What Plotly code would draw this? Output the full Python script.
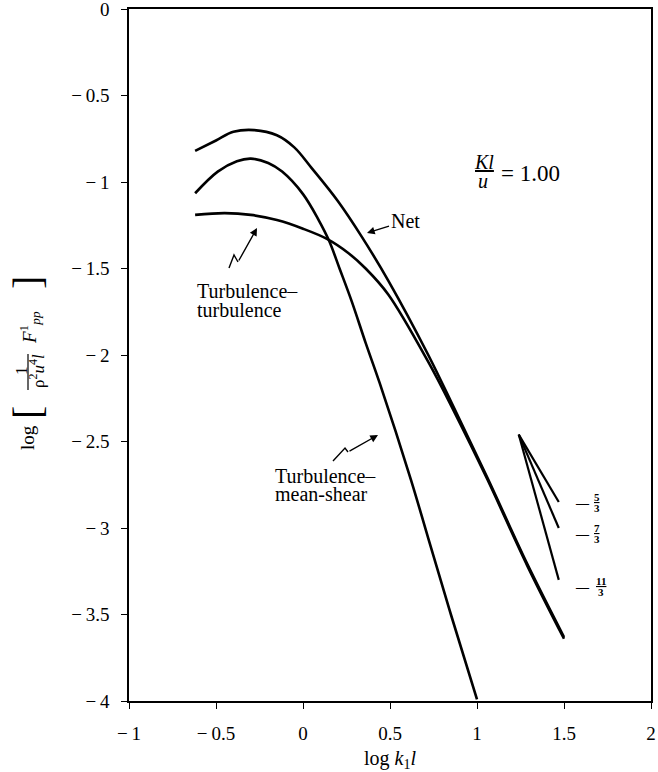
import plotly.graph_objects as go

# ---------------- data ----------------
net_x = [-0.62, -0.5, -0.4, -0.28, -0.15, -0.05, 0.05, 0.2, 0.34, 0.49, 0.72, 0.87, 1.06, 1.29, 1.5]
net_y = [-0.82, -0.76, -0.71, -0.70, -0.73, -0.80, -0.92, -1.11, -1.32, -1.57, -2.00, -2.31, -2.71, -3.21, -3.63]

tt_x = [-0.62, -0.45, -0.3, -0.15, 0.0, 0.14, 0.26, 0.36, 0.49, 0.72, 0.87, 1.06, 1.29, 1.5]
tt_y = [-1.19, -1.18, -1.19, -1.22, -1.27, -1.33, -1.41, -1.50, -1.65, -2.04, -2.33, -2.72, -3.22, -3.64]

ts_x = [-0.62, -0.49, -0.38, -0.30, -0.20, -0.12, 0.0, 0.09, 0.15, 0.21, 0.28, 0.36, 0.44, 0.62, 0.72, 0.85, 1.0]
ts_y = [-1.065, -0.94, -0.88, -0.865, -0.89, -0.94, -1.07, -1.22, -1.34, -1.50, -1.69, -1.93, -2.16, -2.72, -3.06, -3.50, -3.99]

slope_x = [1.24, 1.47]
slope_53_y = [-2.46, -2.85]
slope_73_y = [-2.46, -3.00]
slope_113_y = [-2.46, -3.30]

x_tickvals = [-1, -0.5, 0, 0.5, 1, 1.5, 2]
x_ticktext = ["\u2212\u20091", "\u2212\u20090.5", "0", "0.5", "1", "1.5", "2"]
y_tickvals = [0, -0.5, -1, -1.5, -2, -2.5, -3, -3.5, -4]
y_ticktext = ["0", "\u2212\u20090.5", "\u2212\u20091", "\u2212\u20091.5", "\u2212\u20092",
              "\u2212\u20092.5", "\u2212\u20093", "\u2212\u20093.5", "\u2212\u20094"]

# ---------------- layout constants ----------------
W, H = 658, 772
L, R, T, B = 129, 7, 9, 71
PW, PH = W - L - R, H - T - B
FONT = "Liberation Serif"


def px(xp):
    return (xp - L) / PW


def py(yp):
    return (H - B - yp) / PH


fig = go.Figure()
curve_style = dict(color="black", width=2.6, shape="spline", smoothing=1.0)
for xs, ys, name in [(net_x, net_y, "Net"),
                     (tt_x, tt_y, "Turbulence-turbulence"),
                     (ts_x, ts_y, "Turbulence-mean-shear")]:
    fig.add_trace(go.Scatter(x=xs, y=ys, mode="lines", name=name,
                             line=curve_style, hoverinfo="skip"))

for ys, name in [(slope_53_y, "-5/3"), (slope_73_y, "-7/3"), (slope_113_y, "-11/3")]:
    fig.add_trace(go.Scatter(x=slope_x, y=ys, mode="lines", name=name,
                             line=dict(color="black", width=2.2), hoverinfo="skip"))

ann = []


def text(xp, yp, s, size=20, xanchor="center", angle=0):
    ann.append(dict(xref="paper", yref="paper", x=px(xp), y=py(yp), text=s,
                    showarrow=False, xanchor=xanchor, yanchor="middle",
                    textangle=angle, font=dict(family=FONT, size=size, color="black")))


# curve labels
text(195, 291, "Turbulence\u2013", xanchor="left")
text(195, 310, "turbulence", xanchor="left")
text(273, 476, "Turbulence\u2013", xanchor="left")
text(273, 494, "mean-shear", xanchor="left")

# Net label with arrow
ann.append(dict(xref="paper", yref="paper", x=px(367), y=py(233), text="Net",
                showarrow=True, ax=38, ay=-12, arrowhead=2, arrowsize=1.1,
                arrowwidth=1.4, arrowcolor="black", standoff=0,
                font=dict(family=FONT, size=20, color="black")))

# arrows for turbulence labels (final straight segment)
for tail, tip in [((238, 262), (257, 228)), ((348, 452), (378, 435))]:
    ann.append(dict(xref="paper", yref="paper", x=px(tip[0]), y=py(tip[1]), text="",
                    showarrow=True, ax=tail[0] - tip[0], ay=tail[1] - tip[1],
                    arrowhead=2, arrowsize=1.1, arrowwidth=1.4, arrowcolor="black",
                    standoff=0))

# parameter label Kl/u = 1.00
text(484, 162, "<u><i>Kl</i></u>", size=20)
text(483, 181, "<i>u</i>", size=20)
text(499, 173, "= 1.00", size=23, xanchor="left")

# slope labels
for yd, num in [(502, "5"), (533, "7"), (586, "11")]:
    text(582, yd, "<b>\u2014</b>", size=13)
    xc = 597 if num != "11" else 601
    text(xc, yd - 5, "<b><u>" + num + "</u></b>", size=11)
    text(xc, yd + 6, "<b>3</b>", size=11)

# y-axis title (rotated pieces)
text(27, 438, "log", size=19, angle=-90)
text(27, 413, "[", size=40, angle=-90)
text(21, 371, "1", size=17, angle=-90)
text(37, 371, "\u03c1<sup>2</sup><i>u</i><sup>4</sup><i>l</i>", size=17, angle=-90)
text(29, 328, "<i>F</i><sup>1</sup><sub><i>pp</i></sub>", size=19, angle=-90)
text(27, 283, "]", size=40, angle=-90)

fig.update_layout(
    width=W, height=H,
    margin=dict(l=L, r=R, t=T, b=B, autoexpand=False),
    paper_bgcolor="white", plot_bgcolor="white",
    showlegend=False,
    annotations=ann,
    shapes=[
        dict(type="path", xref="paper", yref="paper",
             path=f"M {px(229)},{py(268)} L {px(234)},{py(255)} L {px(238)},{py(262)}",
             line=dict(color="black", width=1.4)),
        dict(type="path", xref="paper", yref="paper",
             path=f"M {px(333)},{py(461)} L {px(345)},{py(448)} L {px(348)},{py(452)}",
             line=dict(color="black", width=1.4)),
        # fraction bar of the y-axis title
        dict(type="line", xref="paper", yref="paper",
             x0=px(28), x1=px(28), y0=py(354), y1=py(390),
             line=dict(color="black", width=1.2)),
    ],
    font=dict(family=FONT, size=19, color="black"),
)

axis_common = dict(showgrid=False, zeroline=False, showline=True, linecolor="black",
                   linewidth=1.5, mirror=True, ticks="outside", ticklen=6,
                   tickwidth=1.3, tickcolor="black", ticklabeloverflow="allow",
                   automargin=False,
                   tickfont=dict(family=FONT, size=19, color="black"))
fig.update_xaxes(range=[-1, 2], tickvals=x_tickvals, ticktext=x_ticktext,
                 ticklabelstandoff=8,
                 title=dict(text="log <i>k</i><sub>1</sub><i>l</i>",
                            font=dict(family=FONT, size=20, color="black"), standoff=12),
                 **axis_common)
fig.update_yaxes(range=[-4, 0], tickvals=y_tickvals, ticktext=y_ticktext,
                 ticklabelstandoff=8, **axis_common)

fig.write_html("out.html")
